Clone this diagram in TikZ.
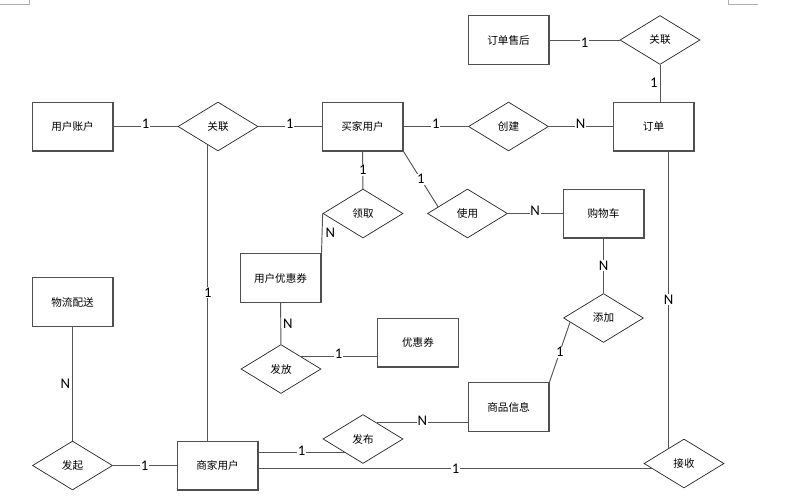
\documentclass[tikz,border=0pt]{standalone}
\usepackage{fontspec}
\setmainfont{Carlito}
\newfontfamily\cjk{Noto Sans CJK SC}
\usetikzlibrary{shapes.geometric, positioning, calc}
\definecolor{edge}{HTML}{555555}
\definecolor{frame}{HTML}{505050}
\definecolor{pagemk}{HTML}{B0B0B0}
\tikzset{
  ent/.style  = {draw=frame, line width=0.9pt, fill=white, inner sep=2pt,
                 minimum width=68.8pt, minimum height=41.6pt,
                 font=\cjk\fontsize{9}{11}\selectfont},
  rel/.style  = {diamond, draw=black!85, line width=0.6pt, fill=white, inner sep=1pt,
                 aspect=1.63, minimum width=68pt, minimum height=41.6pt,
                 font=\cjk\fontsize{9}{11}\selectfont},
  link/.style = {draw=edge, line width=0.8pt},
  card/.style = {font=\fontsize{12.5}{13}\selectfont, fill=white, inner sep=0.6pt},
  pagemark/.style = {draw=pagemk, line width=0.5pt},
}

\begin{document}
\begin{tikzpicture}[x=0.85pt, y=-0.85pt]
\useasboundingbox (0,0) rectangle (795,502);

\draw[pagemark] (0,4) -- (29,4) -- (29,0);
\draw[pagemark] (758,4) -- (728,4) -- (728,0);

\node[ent] (acct)   at (72.5,126.5)  {用户账户};
\node[rel] (bind)   at (218,126.5)   {关联};
\node[ent] (buyer)  at (362.5,126.5) {买家用户};
\node[ent] (after)  at (508.5,40)    {订单售后};
\node[rel] (bind2)  at (660,40)      {关联};
\node[rel] (create) at (508.5,126.5) {创建};
\node[ent] (order)  at (653.5,126.5) {订单};
\node[rel] (claim)  at (363,213.5)   {领取};
\node[rel] (use)    at (467.5,213.5) {使用};
\node[ent] (cart)   at (603.5,213.5) {购物车};
\node[ent] (ucoup)  at (280.5,278)   {用户优惠券};
\node[ent] (ship)   at (72.5,302)    {物流配送};
\node[rel] (add)    at (603.5,318)   {添加};
\node[ent] (coup)   at (418,342.5)   {优惠券};
\node[rel] (issue)  at (281,369)     {发放};
\node[ent] (goods)  at (508.5,407)   {商品信息};
\node[rel] (pub)    at (363,439)     {发布};
\node[rel] (launch) at (72.5,465.5)  {发起};
\node[ent] (seller) at (217.5,465.5) {商家用户};
\node[rel] (recv)   at (684,463.5)   {接收};

\coordinate (b1) at ($(bind.south)!0.25!(bind.west)$);
\coordinate (u1) at ($(use.west)!0.27!(use.north)$);
\coordinate (a1) at ($(add.west)!0.17!(add.south)$);
\coordinate (p1) at ($(pub.north)!0.35!(pub.east)$);
\coordinate (p2) at ($(pub.west)!0.55!(pub.south)$);
\coordinate (r1) at ($(recv.west)!0.22!(recv.south)$);
\coordinate (r2) at ($(recv.west)!0.62!(recv.north)$);
\coordinate (i1) at ($(issue.north)!0.48!(issue.east)$);

\draw[link] (acct) -- node[card, above=-3pt] {1} (bind);
\draw[link] (bind) -- node[card, above=-3pt] {1} (buyer);
\draw[link] (b1) -- node[card] {1} (b1 |- seller.north);
\draw[link] (buyer) -- node[card, above=-3pt] {1} (create);
\draw[link] (create) -- node[card, above=-3pt] {N} (order);
\draw[link] (after) -- node[card, below=-3pt] {1} (bind2);
\draw[link] (bind2.south) -- node[card, left=1pt] {1} (bind2.south |- order.north);
\draw[link] (buyer) -- node[card] {1} (claim);
\draw[link] (claim.west) -- node[card, right=2pt] {N} (ucoup.north east);
\draw[link] (buyer.south east) -- node[card] {1} (u1);
\draw[link] (use) -- node[card, above=-3pt] {N} (cart);
\draw[link] (cart) -- node[card] {N} (add);
\draw[link] (a1) -- node[card] {1} (goods.north east);
\draw[link] (p1) -- node[card, above=-3pt] {N} (p1 -| goods.west);
\draw[link] (p2 -| seller.east) -- node[card, above=-3pt] {1} (p2);
\draw[link] (r1 -| seller.east) -- node[card] {1} (r1);
\draw[link] (r2 |- order.south) -- node[card] {N} (r2);
\draw[link] (ship) -- node[card, left=1pt] {N} (launch);
\draw[link] (launch) -- node[card] {1} (seller);
\draw[link] (i1 -| coup.west) -- node[card, above=-3pt] {1} (i1);
\draw[link] (ucoup) -- node[card, right=1pt] {N} (issue);

\end{tikzpicture}
\end{document}
